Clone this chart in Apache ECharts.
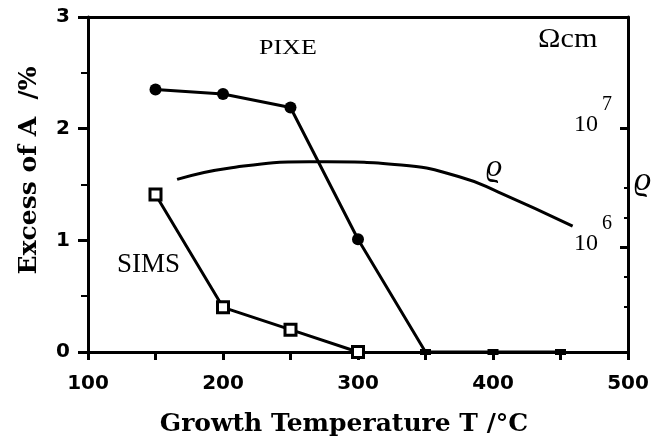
<!DOCTYPE html>
<html>
<head>
<meta charset="utf-8">
<script src="https://cdn.jsdelivr.net/npm/echarts@6/dist/echarts.min.js"></script>
<style>
  html, body { margin: 0; padding: 0; background: #fff; }
  #main { width: 652px; height: 446px; }
</style>
</head>
<body>
<div id="main"></div>
<script>
// PIXE 数据（实心圆）
const pixeT = [150, 200, 250, 300, 350, 400, 450]
const pixeA = [2.35, 2.31, 2.19, 1.01, 0, 0, 0]
// SIMS 数据（空心方块）
const simsT = [150, 200, 250, 300]
const simsA = [1.41, 0.40, 0.20, 0]
// 电阻率 rho 曲线 (Ωcm)
const rhoT = [166, 204, 264, 277, 332, 375, 404, 459]
const rhoV = [3.7e6, 4.6e6, 5.2e6, 5.2e6, 4.9e6, 3.9e6, 2.9e6, 1.5e6]
// 刻度
const xTicks = [100, 200, 300, 400, 500]
const yTicks = [0, 1, 2, 3]
const rhoTicks = [1e6, 1e7]
const rhoMinor = [Math.pow(10, 5.5), Math.pow(10, 5.75), Math.pow(10, 6.25), Math.pow(10, 6.5)]

const dom = document.querySelector('#main')
const myChart = echarts.init(dom)

const serif = 'Liberation Serif'
const rhoMin = Math.pow(10, 5.118)
const rhoMax = Math.pow(10, 7.933)

const option = {
  animation: false,
  backgroundColor: '#fff',
  grid: { left: 88, right: 24, top: 17, bottom: 94 },
  xAxis: [
    {
      type: 'value',
      min: 100,
      max: 500,
      interval: 100,
      name: 'Growth Temperature T /°C',
      nameLocation: 'middle',
      nameGap: 60,
      nameTextStyle: { fontFamily: 'DejaVu Serif', fontWeight: 'bold', fontSize: 25, color: '#000', padding: [0, 28, 0, 0] },
      axisLine: { lineStyle: { color: '#000', width: 3 } },
      axisTick: { length: 8, lineStyle: { width: 3, color: '#000' } },
      minorTick: { show: true, splitNumber: 2, length: 8, lineStyle: { width: 3, color: '#000' } },
      splitLine: { show: false },
      axisLabel: {
        margin: 22,
        fontFamily: 'DejaVu Sans',
        fontWeight: 'bold',
        fontSize: 20,
        color: '#000',
        customValues: xTicks
      }
    },
    {
      // 顶部边框
      type: 'value',
      position: 'top',
      min: 100,
      max: 500,
      axisLine: { lineStyle: { color: '#000', width: 3 } },
      axisTick: { show: false },
      axisLabel: { show: false },
      splitLine: { show: false }
    }
  ],
  yAxis: [
    {
      type: 'value',
      min: 0,
      max: 3,
      interval: 1,
      name: 'Excess of A  /%',
      nameLocation: 'middle',
      nameGap: 46,
      nameTextStyle: { fontFamily: 'DejaVu Serif', fontWeight: 'bold', fontSize: 25, color: '#000', padding: [0, 0, 0, 28] },
      axisLine: { show: true, lineStyle: { color: '#000', width: 3 } },
      axisTick: { length: 10, lineStyle: { width: 3, color: '#000' } },
      minorTick: { show: true, splitNumber: 2, length: 7, lineStyle: { width: 2, color: '#000' } },
      splitLine: { show: false },
      axisLabel: {
        margin: 18,
        fontFamily: 'DejaVu Sans',
        fontWeight: 'bold',
        fontSize: 20,
        color: '#000',
        customValues: yTicks
      }
    },
    {
      // 右侧电阻率对数轴
      type: 'log',
      logBase: 10,
      position: 'right',
      min: rhoMin,
      max: rhoMax,
      axisLine: { show: true, lineStyle: { color: '#000', width: 3 } },
      axisTick: { show: true, inside: true, length: 8, customValues: rhoTicks, lineStyle: { width: 3, color: '#000' } },
      splitLine: { show: false },
      axisLabel: {
        inside: true,
        margin: 16,
        customValues: rhoTicks,
        formatter: function (v) {
          return '{b|10}{s|' + Math.round(Math.log10(v)) + '}'
        },
        rich: {
          b: { fontFamily: serif, fontSize: 24, color: '#000', padding: [18, 0, 24, 0] },
          s: { fontFamily: serif, fontSize: 20, color: '#000', verticalAlign: 'top', padding: [0, 0, 0, 4] }
        }
      }
    },
    {
      // 右侧次刻度
      type: 'log',
      logBase: 10,
      position: 'right',
      min: rhoMin,
      max: rhoMax,
      axisLine: { show: false },
      axisTick: { show: true, inside: true, length: 4, customValues: rhoMinor, lineStyle: { width: 2, color: '#000' } },
      axisLabel: { show: false },
      splitLine: { show: false }
    }
  ],
  graphic: [
    { type: 'text', left: 259, top: 39, scaleX: 1.3, style: { text: 'PIXE', font: '20px "Liberation Serif"', fill: '#000' } },
    { type: 'text', left: 538, top: 26, scaleX: 1.08, style: { text: 'Ωcm', font: '28px "Liberation Serif"', fill: '#000' } },
    { type: 'text', left: 117, top: 251, style: { text: 'SIMS', font: '27px "Liberation Serif"', fill: '#000' } },
    { type: 'text', left: 486, top: 152, style: { text: 'ϱ', font: 'italic 32px "Liberation Serif"', fill: '#000' } },
    { type: 'text', left: 634, top: 164, style: { text: 'ϱ', font: 'italic 34px "Liberation Serif"', fill: '#000' } }
  ],
  series: [
    {
      name: 'PIXE',
      type: 'line',
      data: pixeT.map((t, i) => pixeA[i] === 0
        ? { value: [t, pixeA[i]], symbol: 'rect', symbolSize: [11, 6] }
        : [t, pixeA[i]]),
      symbol: 'circle',
      symbolSize: 12,
      itemStyle: { color: '#000' },
      lineStyle: { color: '#000', width: 3 },
      z: 5
    },
    {
      name: 'SIMS',
      type: 'line',
      data: simsT.map((t, i) => [t, simsA[i]]),
      symbol: 'rect',
      symbolSize: 11,
      itemStyle: { color: '#fff', borderColor: '#000', borderWidth: 3 },
      lineStyle: { color: '#000', width: 3 },
      z: 5
    },
    {
      name: 'rho',
      type: 'line',
      yAxisIndex: 1,
      data: rhoT.map((t, i) => [t, rhoV[i]]),
      smooth: true,
      showSymbol: false,
      lineStyle: { color: '#000', width: 3 },
      z: 4
    }
  ]
}

myChart.setOption(option)
</script>
</body>
</html>
